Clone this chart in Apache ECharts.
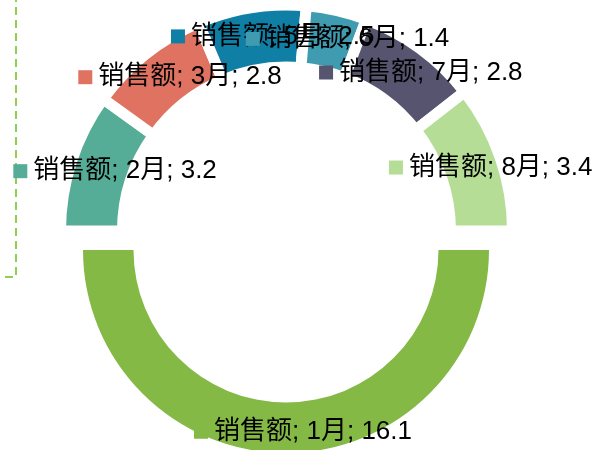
<!DOCTYPE html>
<html>
<head>
<meta charset="utf-8">
<script src="https://cdn.jsdelivr.net/npm/echarts@6/dist/echarts.min.js"></script>
<style>
html,body{margin:0;padding:0;background:#fff;}
#chart{width:598px;height:450px;}
</style>
</head>
<body>
<div id="chart"></div>
<script>
const seriesName = '销售额';
const months = ['1月', '2月', '3月', '5月', '6月', '7月', '8月'];
const values = [16.1, 3.2, 2.8, 2.5, 1.4, 2.8, 3.4];
const colors = ['#84b945', '#56ad97', '#e07262', '#0f7fa6', '#3e9bb0', '#56546f', '#b5dd95'];
const explodedIndex = 0;

const rich = {
  t: { fontSize: 26, color: '#000', padding: [0, 0, 0, 6], lineHeight: 30 }
};
colors.forEach((c, i) => {
  rich['m' + i] = { width: 14, height: 14, backgroundColor: c };
});

const labelCfg = {
  show: true,
  position: 'inside',
  offset: [17, 1],
  fontFamily: "'Liberation Sans', 'Noto Sans CJK SC', sans-serif",
  formatter: p => `{m${p.dataIndex}|}{t|${seriesName}; ${p.name}; ${p.value}}`,
  rich: rich
};

const hidden = { color: 'rgba(0,0,0,0)', borderWidth: 0 };

const ringData = months.map((m, i) => i === explodedIndex
  ? { name: m, value: values[i], itemStyle: hidden, label: { show: false } }
  : { name: m, value: values[i], itemStyle: { color: colors[i] } });

const explodedData = months.map((m, i) => i === explodedIndex
  ? { name: m, value: values[i], itemStyle: { color: colors[i], borderWidth: 0 } }
  : { name: m, value: values[i], itemStyle: hidden, label: { show: false } });

const chart = echarts.init(document.getElementById('chart'), null, { renderer: 'canvas' });
chart.setOption({
  animation: false,
  backgroundColor: '#fff',
  textStyle: { fontFamily: "'Liberation Sans', 'Noto Sans CJK SC', sans-serif" },
  graphic: [{
    type: 'rect',
    z: -10,
    shape: { x: -60, y: -60, width: 76, height: 337 },
    style: { fill: 'none', stroke: '#8fd14f', lineWidth: 2, lineDash: [8, 5] }
  }],
  series: [
    {
      name: seriesName,
      type: 'pie',
      silent: true,
      startAngle: 0,
      clockwise: true,
      center: [286.5, 231],
      radius: [164, 226],
      avoidLabelOverlap: false,
      minShowLabelAngle: 0,
      labelLayout: { hideOverlap: false },
      itemStyle: { borderColor: '#fff', borderWidth: 11 },
      label: labelCfg,
      labelLine: { show: false },
      data: ringData
    },
    {
      name: seriesName,
      type: 'pie',
      silent: true,
      startAngle: 0,
      clockwise: true,
      center: [286, 250],
      radius: [152.5, 203],
      avoidLabelOverlap: false,
      labelLayout: { hideOverlap: false },
      label: labelCfg,
      labelLine: { show: false },
      data: explodedData
    }
  ]
});
</script>
</body>
</html>
